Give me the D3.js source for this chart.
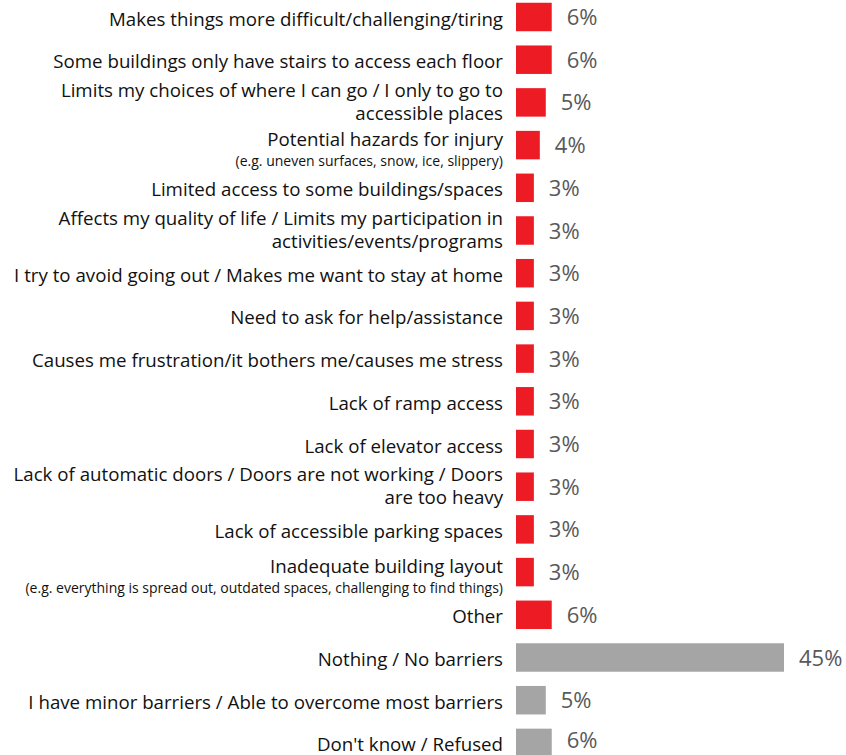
<!DOCTYPE html>
<html>
<head>
<meta charset="utf-8">
<script src="https://cdn.jsdelivr.net/npm/d3@7"></script>
<style>
  html, body { margin: 0; padding: 0; background: #ffffff; }
  svg { display: block; }
</style>
</head>
<body>
<script>
// Barrier categories (each entry holds the lines of its label)
const categories = [
  ["Makes things more difficult/challenging/tiring"],
  ["Some buildings only have stairs to access each floor"],
  ["Limits my choices of where I can go / I only to go to", "accessible places"],
  ["Potential hazards for injury"],
  ["Limited access to some buildings/spaces"],
  ["Affects my quality of life / Limits my participation in", "activities/events/programs"],
  ["I try to avoid going out / Makes me want to stay at home"],
  ["Need to ask for help/assistance"],
  ["Causes me frustration/it bothers me/causes me stress"],
  ["Lack of ramp access"],
  ["Lack of elevator access"],
  ["Lack of automatic doors / Doors are not working / Doors", "are too heavy"],
  ["Lack of accessible parking spaces"],
  ["Inadequate building layout"],
  ["Other"],
  ["Nothing / No barriers"],
  ["I have minor barriers / Able to overcome most barriers"],
  ["Don't know / Refused"]
];

// Small-print examples shown under some categories
const notes = [
  "", "", "",
  "(e.g. uneven surfaces, snow, ice, slippery)",
  "", "", "", "", "", "", "", "", "",
  "(e.g. everything is spread out, outdated spaces, challenging to find things)",
  "", "", "", ""
];

// Share of respondents (%)
const values = [6, 6, 5, 4, 3, 3, 3, 3, 3, 3, 3, 3, 3, 3, 6, 45, 5, 6];

// Whether the answer names a barrier or not
const groups = [
  "barrier", "barrier", "barrier", "barrier", "barrier", "barrier", "barrier", "barrier",
  "barrier", "barrier", "barrier", "barrier", "barrier", "barrier", "barrier",
  "none", "none", "none"
];

const W = 846, H = 755;
const labelFont = "'Open Sans', 'Liberation Sans', sans-serif";
const valueSize = 22;

const svg = d3.select("body").append("svg")
  .attr("width", W)
  .attr("height", H);

const x = d3.scaleLinear()
  .domain([0, 45])
  .range([516, 784]);

const y = d3.scaleBand()
  .domain(d3.range(categories.length))
  .range([-4.35, 764.25])
  .paddingInner(0.333)
  .paddingOuter(0.1665);

const color = d3.scaleOrdinal()
  .domain(["barrier", "none"])
  .range(["#ED1C24", "#A5A5A5"]);

const rows = svg.append("g")
  .selectAll("g")
  .data(d3.range(categories.length))
  .join("g");

// bars
rows.append("rect")
  .attr("x", x(0))
  .attr("y", i => y(i))
  .attr("width", i => x(values[i]) - x(0))
  .attr("height", y.bandwidth())
  .attr("fill", i => color(groups[i]));

// value labels (kept inside the bottom edge of the canvas)
rows.append("text")
  .attr("x", i => x(values[i]) + 15)
  .attr("y", i => Math.min(y(i) + y.bandwidth() / 2 + 8, H - valueSize * 0.3))
  .attr("font-family", labelFont)
  .attr("font-size", valueSize)
  .attr("fill", "#595959")
  .text(i => values[i] + "%");

// category labels
const labelX = 503;
rows.each(function(i) {
  const g = d3.select(this);
  const c = y(i) + y.bandwidth() / 2;
  const lines = categories[i];
  const note = notes[i];
  const t = g.append("text")
    .attr("text-anchor", "end")
    .attr("font-family", labelFont)
    .attr("font-size", 18.7)
    .attr("fill", "#111111");
  if (note) {
    t.append("tspan").attr("x", labelX).attr("y", c + 1).text(lines[0]);
    g.append("text")
      .attr("text-anchor", "end")
      .attr("font-family", labelFont)
      .attr("font-size", 14)
      .attr("fill", "#111111")
      .attr("x", labelX)
      .attr("y", c + 21)
      .text(note);
  } else if (lines.length === 2) {
    t.append("tspan").attr("x", labelX).attr("y", c - 5.5).text(lines[0]);
    t.append("tspan").attr("x", labelX).attr("y", c + 17.5).text(lines[1]);
  } else {
    t.append("tspan").attr("x", labelX).attr("y", c + 8.5).text(lines[0]);
  }
});
</script>
</body>
</html>
